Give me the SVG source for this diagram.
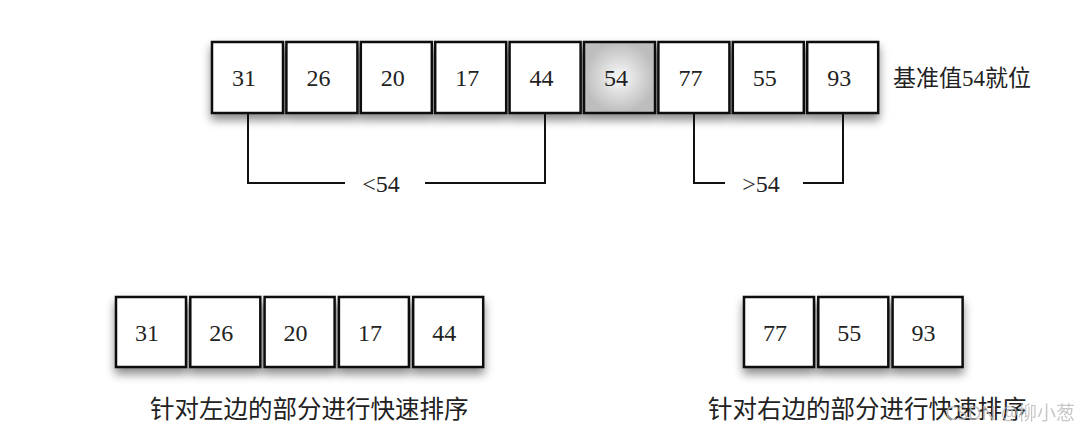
<svg xmlns="http://www.w3.org/2000/svg" width="1090" height="434" viewBox="0 0 1090 434">
<style>
.b{fill:#fff;stroke:#111;stroke-width:2.5}
.n{font-family:"Liberation Serif",serif;font-size:24px;fill:#222;text-anchor:middle}
.c{font-family:"Liberation Serif","Noto Sans CJK SC",serif;font-size:23px;fill:#222}
.l{fill:none;stroke:#111;stroke-width:2}
</style>
<defs>
<filter id="sh" x="-20%" y="-20%" width="140%" height="160%"><feDropShadow dx="0" dy="6" stdDeviation="5" flood-color="#000" flood-opacity="0.45"/></filter>
<radialGradient id="g"><stop offset="0" stop-color="#fafafa"/><stop offset="1" stop-color="#bdbdbd"/></radialGradient>
</defs>
<g id="top" filter="url(#sh)">
<rect class="b" x="212" y="42" width="71" height="71"/>
<rect class="b" x="286.4" y="42" width="71" height="71"/>
<rect class="b" x="360.8" y="42" width="71" height="71"/>
<rect class="b" x="435.2" y="42" width="71" height="71"/>
<rect class="b" x="509.6" y="42" width="71" height="71"/>
<rect class="b" x="584" y="42" width="71" height="71" style="fill:url(#g)"/>
<rect class="b" x="658.4" y="42" width="71" height="71"/>
<rect class="b" x="732.8" y="42" width="71" height="71"/>
<rect class="b" x="807.2" y="42" width="71" height="71"/>
</g>
<g id="topText" class="n">
<text x="244" y="86">31</text><text x="318.4" y="86">26</text><text x="392.8" y="86">20</text>
<text x="467.2" y="86">17</text><text x="541.6" y="86">44</text><text x="616" y="86">54</text>
<text x="690.4" y="86">77</text><text x="764.8" y="86">55</text><text x="839.2" y="86">93</text>
</g>
<text class="c" x="893" y="86">基准值54就位</text>
<g id="connectors">
<path class="l" d="M248 113V183H345M425 183H545V113"/>
<path class="l" d="M694 113V183H725M803 183H843V113"/>
</g>
<text class="n" x="381" y="192">&lt;54</text>
<text class="n" x="761" y="192">&gt;54</text>
<g id="left" filter="url(#sh)">
<rect class="b" x="116" y="297" width="70" height="70"/>
<rect class="b" x="190.3" y="297" width="70" height="70"/>
<rect class="b" x="264.6" y="297" width="70" height="70"/>
<rect class="b" x="338.9" y="297" width="70" height="70"/>
<rect class="b" x="413.2" y="297" width="70" height="70"/>
</g>
<g class="n">
<text x="147" y="341">31</text><text x="221.3" y="341">26</text><text x="295.6" y="341">20</text>
<text x="369.9" y="341">17</text><text x="444.2" y="341">44</text>
</g>
<g id="right" filter="url(#sh)">
<rect class="b" x="744" y="297" width="70" height="70"/>
<rect class="b" x="818.3" y="297" width="70" height="70"/>
<rect class="b" x="892.6" y="297" width="70" height="70"/>
</g>
<g class="n">
<text x="775" y="341">77</text><text x="849.3" y="341">55</text><text x="923.6" y="341">93</text>
</g>
<text class="c" x="150" y="418" style="font-size:24.5px">针对左边的部分进行快速排序</text>
<text class="c" x="708" y="418" style="font-size:24.5px">针对右边的部分进行快速排序</text>
<text x="1075" y="420" style="font-family:'Noto Sans','Noto Sans CJK SC',sans-serif;font-size:19px;fill:#bbb;text-anchor:end;opacity:0.8">CSDN @柳小葱</text>
</svg>
